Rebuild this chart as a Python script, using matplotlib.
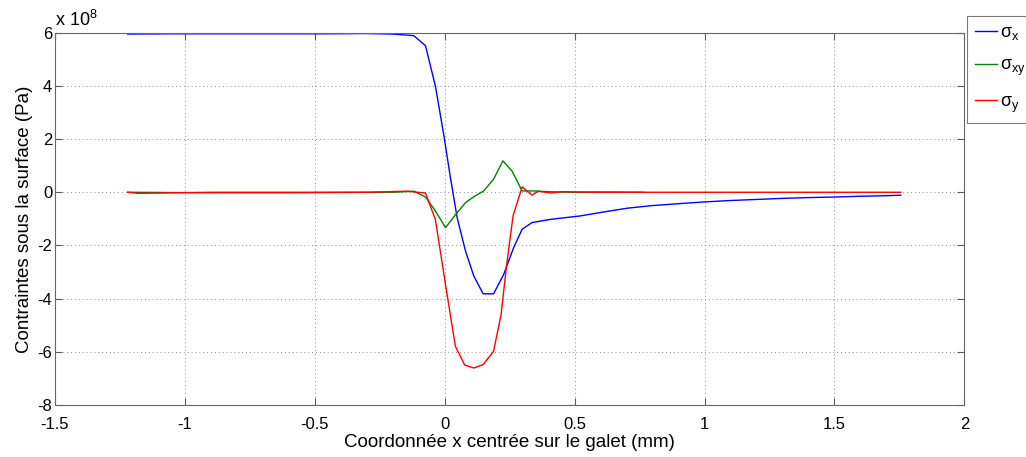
import matplotlib
matplotlib.use("Agg")
import matplotlib.pyplot as plt

plt.rcParams['font.family'] = ['Liberation Sans', 'DejaVu Sans']
plt.rcParams['mathtext.fontset'] = 'custom'
plt.rcParams['mathtext.rm'] = 'Liberation Sans'
plt.rcParams['mathtext.it'] = 'Liberation Sans'
plt.rcParams['mathtext.sf'] = 'Liberation Sans'

# Data (stresses in units of 1e8 Pa, x in mm)
x_sx = [-1.22, -1.05, -0.9, -0.75, -0.6, -0.45, -0.3, -0.2, -0.119, -0.074, -0.036,
        -0.004, 0.022, 0.048, 0.080, 0.112, 0.148, 0.188, 0.227, 0.265, 0.298,
        0.336, 0.407, 0.45, 0.522, 0.6, 0.702, 0.8, 0.9, 0.996, 1.1, 1.2, 1.3,
        1.4, 1.496, 1.6, 1.7, 1.755]
sx = [5.95, 5.96, 5.96, 5.96, 5.96, 5.96, 5.97, 5.95, 5.89, 5.51, 4.0,
      2.18, 0.55, -0.96, -2.21, -3.15, -3.82, -3.82, -3.09, -2.09, -1.39,
      -1.14, -1.02, -0.97, -0.89, -0.76, -0.60, -0.50, -0.43, -0.365, -0.31, -0.27, -0.23,
      -0.20, -0.18, -0.15, -0.13, -0.11]

x_sxy = [-1.22, -0.9, -0.6, -0.3, -0.2, -0.119, -0.074, -0.036, 0.003, 0.041,
         0.080, 0.115, 0.150, 0.188, 0.224, 0.259, 0.298, 0.343, 0.4, 0.5, 0.6, 0.765]
sxy = [0.0, -0.02, -0.02, 0.0, 0.0, 0.04, -0.18, -0.7, -1.33, -0.85,
       -0.39, -0.15, 0.05, 0.49, 1.18, 0.80, 0.05, 0.05, 0.02, 0.0, 0.01, 0.0]

x_sy = [-1.22, -1.18, -0.9, -0.6, -0.3, -0.145, -0.074, -0.036, 0.003, 0.041,
        0.077, 0.112, 0.148, 0.188, 0.217, 0.237, 0.263, 0.298, 0.336, 0.36,
        0.41, 0.45, 0.6, 0.8, 1.0, 1.3, 1.6, 1.755]
sy = [0.0, -0.04, 0.0, 0.0, 0.0, 0.04, -0.03, -1.02, -3.47, -5.79,
      -6.50, -6.61, -6.48, -5.98, -4.60, -2.84, -0.89, 0.20, -0.11, 0.04,
      -0.03, 0.02, 0.0, 0.0, 0.0, 0.0, 0.0, 0.0]

xticks = [-1.5, -1, -0.5, 0, 0.5, 1, 1.5, 2]
xticklabels = ['-1.5', '-1', '-0.5', '0', '0.5', '1', '1.5', '2']
yticks = [-8, -6, -4, -2, 0, 2, 4, 6]
yticklabels = ['-8', '-6', '-4', '-2', '0', '2', '4', '6']

fig = plt.figure(figsize=(10.26, 4.57), dpi=100)
ax = fig.add_axes([0.0536, 0.1138, 0.8863, 0.8146])

l1, = ax.plot(x_sx, sx, color=(0, 0, 1), lw=1.0, label=r'σ$_\mathrm{x}$')
l2, = ax.plot(x_sxy, sxy, color=(0, 0.5, 0), lw=1.0, label=r'σ$_\mathrm{xy}$')
l3, = ax.plot(x_sy, sy, color=(1, 0, 0), lw=1.0, label=r'σ$_\mathrm{y}$')

ax.set_xlim(-1.5, 2)
ax.set_ylim(-8, 6)
ax.set_xticks(xticks)
ax.set_xticklabels(xticklabels)
ax.set_yticks(yticks)
ax.set_yticklabels(yticklabels)
ax.tick_params(direction='in', length=5, width=0.8, color='0.35', labelsize=12,
               top=True, right=True)
ax.tick_params(axis='x', pad=9)
ax.tick_params(axis='y', pad=2)
ax.grid(True, linestyle=(0, (1, 3)), color='0.55', linewidth=0.7)
for s in ax.spines.values():
    s.set_color('0.4')
    s.set_linewidth(0.8)

ax.set_xlabel('Coordonnée x centrée sur le galet (mm)', fontsize=13.5, labelpad=1)
ax.set_ylabel('Contraintes sous la surface (Pa)', fontsize=13.5, labelpad=3)
ax.text(0.0, 1.008, r'x 10$^\mathrm{8}$', transform=ax.transAxes, fontsize=13,
        ha='left', va='bottom')

leg = fig.legend(handles=[l1, l2, l3], loc='upper left',
                 bbox_to_anchor=(966.7 / 1026, 1 - 15.7 / 457),
                 fontsize=13, frameon=True, fancybox=False, handlelength=1.25,
                 handletextpad=0.15, labelspacing=0.85, borderpad=0.45,
                 borderaxespad=0.0)
leg.get_frame().set_edgecolor('0.35')
leg.get_frame().set_linewidth(0.8)

fig.savefig('out.png', dpi=100)
